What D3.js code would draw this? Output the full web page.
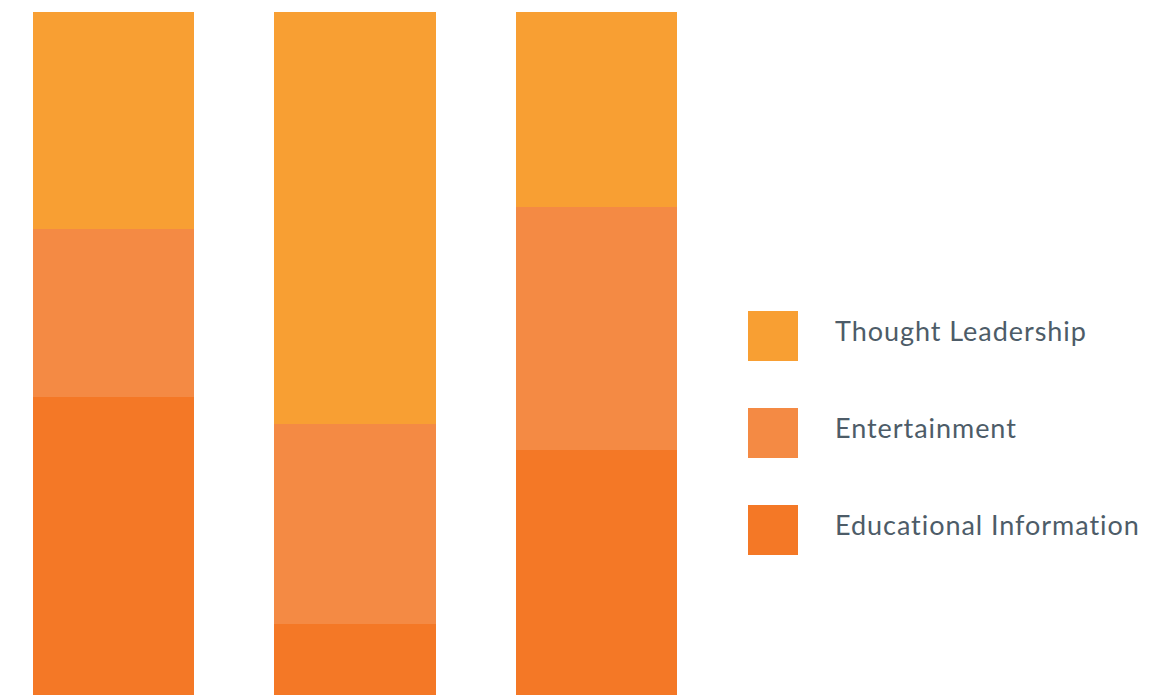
<!DOCTYPE html>
<html>
<head>
<meta charset="utf-8">
<script src="https://cdn.jsdelivr.net/npm/d3@7"></script>
<style>
  html, body { margin: 0; padding: 0; background: #ffffff; }
  svg { display: block; }
</style>
</head>
<body>
<svg id="chart" width="1162" height="695"></svg>
<script>
// ---- data ----
const categories = ["A", "B", "C"];
const seriesNames = ["Educational Information", "Entertainment", "Thought Leadership"];
const educational = [43.6, 10.4, 35.9];
const entertainment = [24.6, 29.3, 35.6];
const thoughtLeadership = [31.8, 60.3, 28.5];
const legendOrder = ["Thought Leadership", "Entertainment", "Educational Information"];

const colors = {
  "Thought Leadership": "#f89f33",
  "Entertainment": "#f48a44",
  "Educational Information": "#f47826"
};

const rows = categories.map((c, i) => ({
  cat: c,
  "Educational Information": educational[i],
  "Entertainment": entertainment[i],
  "Thought Leadership": thoughtLeadership[i]
}));

const svg = d3.select("#chart");

const x = d3.scaleBand()
  .domain(categories)
  .range([33, 677])
  .paddingInner(0.332)
  .paddingOuter(0);

const stacked = d3.stack().keys(seriesNames).offset(d3.stackOffsetExpand)(rows);
const y = d3.scaleLinear().domain([0, 1]).range([695, 12]);

svg.append("g")
  .selectAll("g")
  .data(stacked)
  .join("g")
  .attr("fill", d => colors[d.key])
  .selectAll("rect")
  .data(d => d)
  .join("rect")
  .attr("x", d => x(d.data.cat))
  .attr("width", x.bandwidth())
  .attr("y", d => y(d[1]))
  .attr("height", d => y(d[0]) - y(d[1]))
  .attr("shape-rendering", "crispEdges");

// ---- legend ----
const legend = d3.scaleBand()
  .domain(legendOrder)
  .range([311, 555])
  .paddingInner(47 / 97)
  .paddingOuter(0);

const lg = svg.append("g")
  .selectAll("g")
  .data(legendOrder)
  .join("g")
  .attr("transform", d => `translate(748,${legend(d)})`);

lg.append("rect")
  .attr("width", 50)
  .attr("height", 50)
  .attr("fill", d => colors[d])
  .attr("shape-rendering", "crispEdges");

lg.append("text")
  .attr("x", 87)
  .attr("y", 30)
  .attr("fill", "#4d5c68")
  .style("font-family", "Lato, 'Open Sans', sans-serif")
  .style("font-size", "27px")
  .style("letter-spacing", "0.95px")
  .text(d => d);
</script>
</body>
</html>
